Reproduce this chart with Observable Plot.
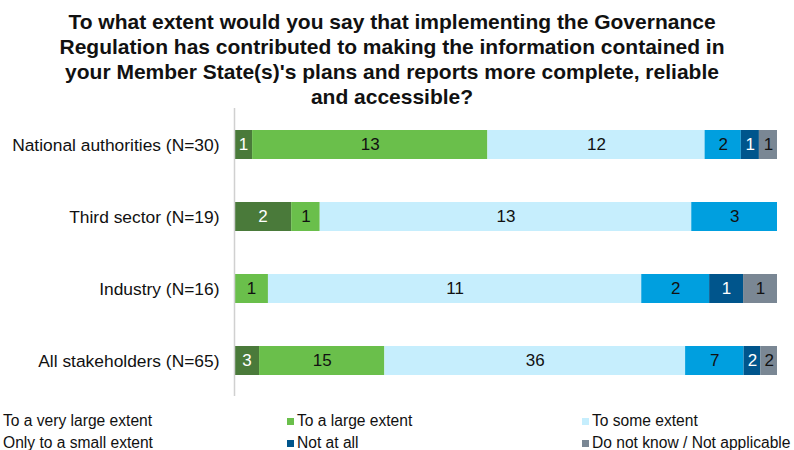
<!DOCTYPE html>
<html>
<head>
<meta charset="utf-8">
<script src="https://cdn.jsdelivr.net/npm/d3@7"></script>
<script src="https://cdn.jsdelivr.net/npm/@observablehq/plot@0.6"></script>
<style>
  html, body { margin: 0; padding: 0; background: #fff; }
  body { width: 794px; height: 450px; overflow: hidden; position: relative; font-family: Arial, "Liberation Sans", sans-serif; }
  #title { position: absolute; left: 0; top: 9px; width: 784px; text-align: center; font-weight: bold; font-size: 21px; line-height: 25px; color: #111; }
  #chart { position: absolute; left: 0; top: 108px; }
  #legend { position: absolute; left: 0; top: 410px; width: 794px; font-size: 15.6px; line-height: 22px; color: #111; }
  .item { position: absolute; white-space: nowrap; display: flex; align-items: center; }
  .sw { width: 7px; height: 7px; margin-right: 3px; display: inline-block; }
</style>
</head>
<body>
<div id="title">To what extent would you say that implementing the Governance<br>Regulation has contributed to making the information contained in<br>your Member State(s)'s plans and reports more complete, reliable<br>and accessible?</div>
<div id="chart"></div>
<div id="legend"></div>
<script>
const categories = ["National authorities (N=30)", "Third sector (N=19)", "Industry (N=16)", "All stakeholders (N=65)"];
const responses = ["To a very large extent", "To a large extent", "To some extent", "Only to a small extent", "Not at all", "Do not know / Not applicable"];
const colors = ["#4a7a3a", "#6abf4b", "#c6eefd", "#009fdf", "#00558c", "#7a8794"];
const labelColors = ["#ffffff", "#111111", "#111111", "#111111", "#ffffff", "#111111"];
const national = [1, 13, 12, 2, 1, 1];
const thirdSector = [2, 1, 13, 3, 0, 0];
const industry = [0, 1, 11, 2, 1, 1];
const allStakeholders = [3, 15, 36, 7, 2, 2];

const series = [national, thirdSector, industry, allStakeholders];
const rows = [];
categories.forEach((c, i) => {
  series[i].forEach((v, j) => {
    if (v > 0) rows.push({category: c, response: responses[j], value: v, idx: j});
  });
});

const chart = Plot.plot({
  width: 794,
  height: 288,
  marginLeft: 234,
  marginRight: 17,
  marginTop: 0,
  marginBottom: 0,
  style: {fontFamily: "Arial, 'Liberation Sans', sans-serif", fontSize: "17.4px", color: "#111"},
  x: {axis: null, domain: [0, 1]},
  y: {domain: categories, label: null, padding: 0.6, paddingOuter: 0.3, tickSize: 0, tickPadding: 15},
  color: {domain: responses, range: colors},
  marks: [
    Plot.barX(rows, Plot.stackX({x: "value", y: "category", fill: "response", offset: "normalize", order: responses})),
    Plot.text(rows, Plot.stackX({x: "value", y: "category", z: "response", text: "value", offset: "normalize", order: responses,
      fill: d => labelColors[d.idx], fontSize: 17})),
    Plot.ruleX([0], {stroke: "#d0d0d0", strokeWidth: 1.5})
  ]
});
document.getElementById("chart").appendChild(chart);

const legend = document.getElementById("legend");
const colX = [-7, 287, 582];
responses.forEach((r, j) => {
  const el = document.createElement("div");
  el.className = "item";
  el.style.left = colX[j % 3] + "px";
  el.style.top = (Math.floor(j / 3) * 22) + "px";
  el.innerHTML = `<span class="sw" style="background:${colors[j]}"></span><span>${r}</span>`;
  legend.appendChild(el);
});
</script>
</body>
</html>
